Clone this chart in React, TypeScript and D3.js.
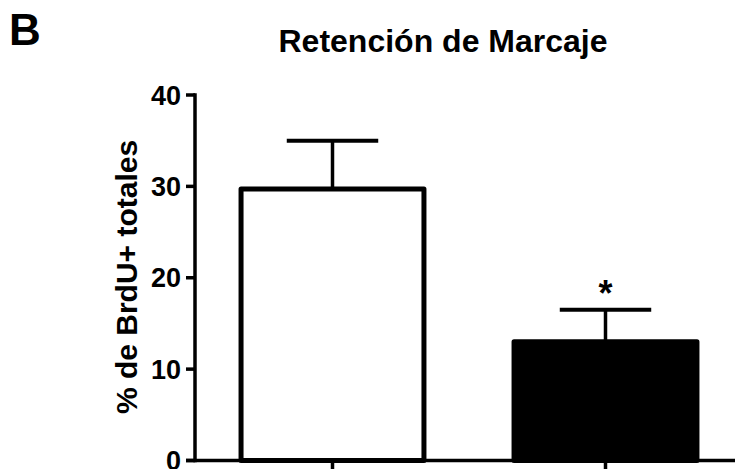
import { useEffect, useRef } from "react";
import * as d3 from "d3";

// grupos (las etiquetas del eje x quedan fuera del recorte)
const groups = ["Control", "Tratado"];
const means = [29.7, 13.0];
const sems = [5.3, 3.5];
const fills = ["#ffffff", "#000000"];
const signif = ["", "*"];
const yTicks = [0, 10, 20, 30, 40];

export default function App() {
  const svgRef = useRef<SVGSVGElement | null>(null);

  useEffect(() => {
    document.body.style.margin = "0";
    const svg = d3.select(svgRef.current);
    svg.selectAll("*").remove();

    const width = 735;
    const height = 469;
    const font = "'Liberation Sans', Arial, sans-serif";
    const axisX = 195;

    const y = d3.scaleLinear().domain([0, 40]).range([460.5, 95]);
    const x = d3
      .scaleBand<string>()
      .domain(groups)
      .range([196, 742])
      .paddingInner(0.33)
      .paddingOuter(0.165);

    svg.attr("width", width).attr("height", height);
    svg.append("rect").attr("width", width).attr("height", height).attr("fill", "#fff");

    // panel letter + title
    svg.append("text")
      .attr("x", 9)
      .attr("y", 45)
      .style("font-family", font)
      .style("font-weight", "bold")
      .style("font-size", "44px")
      .text("B");

    svg.append("text")
      .attr("x", 443)
      .attr("y", 52)
      .attr("text-anchor", "middle")
      .style("font-family", font)
      .style("font-weight", "bold")
      .style("font-size", "32px")
      .text("Retención de Marcaje");

    // bars
    const bw = x.bandwidth();
    svg.selectAll(".bar")
      .data(groups)
      .join("rect")
      .attr("class", "bar")
      .attr("x", (d) => x(d)!)
      .attr("y", (d, i) => y(means[i]))
      .attr("width", bw)
      .attr("height", (d, i) => y(0) - y(means[i]))
      .attr("fill", (d, i) => fills[i])
      .attr("stroke", "#000")
      .attr("stroke-width", 5)
      .attr("stroke-linejoin", "round");

    // error bars (upper only)
    const capW = bw / 2;
    groups.forEach((g, i) => {
      const cx = x(g)! + bw / 2;
      svg.append("line")
        .attr("x1", cx).attr("x2", cx)
        .attr("y1", y(means[i])).attr("y2", y(means[i] + sems[i]))
        .attr("stroke", "#000").attr("stroke-width", 3.5);
      svg.append("line")
        .attr("x1", cx - capW / 2).attr("x2", cx + capW / 2)
        .attr("y1", y(means[i] + sems[i])).attr("y2", y(means[i] + sems[i]))
        .attr("stroke", "#000").attr("stroke-width", 4);
      if (signif[i]) {
        svg.append("text")
          .attr("x", cx)
          .attr("y", y(means[i] + sems[i]) - 4)
          .attr("text-anchor", "middle")
          .style("font-family", font)
          .style("font-weight", "bold")
          .style("font-size", "36px")
          .text(signif[i]);
      }
    });

    // y axis
    const yAxis = svg.append("g").attr("transform", `translate(${axisX},0)`);
    yAxis.append("line")
      .attr("x1", 0).attr("x2", 0)
      .attr("y1", y(40) - 1.75).attr("y2", y(0) + 1.75)
      .attr("stroke", "#000").attr("stroke-width", 3.5);
    yAxis.selectAll(".ytick")
      .data(yTicks)
      .join("line")
      .attr("class", "ytick")
      .attr("x1", -9).attr("x2", 0)
      .attr("y1", (d) => y(d)).attr("y2", (d) => y(d))
      .attr("stroke", "#000").attr("stroke-width", 3.5);
    yAxis.selectAll(".ylab")
      .data(yTicks)
      .join("text")
      .attr("class", "ylab")
      .attr("x", -14)
      .attr("y", (d) => y(d))
      .attr("dy", "0.36em")
      .attr("text-anchor", "end")
      .style("font-family", font)
      .style("font-weight", "bold")
      .style("font-size", "27px")
      .text((d) => d);

    svg.append("text")
      .attr("transform", `translate(137,277) rotate(-90)`)
      .attr("text-anchor", "middle")
      .style("font-family", font)
      .style("font-weight", "bold")
      .style("font-size", "30px")
      .text("% de BrdU+ totales");

    // x axis
    svg.append("line")
      .attr("x1", axisX - 9).attr("x2", width)
      .attr("y1", y(0)).attr("y2", y(0))
      .attr("stroke", "#000").attr("stroke-width", 3.5);
    svg.selectAll(".xtick")
      .data(groups)
      .join("line")
      .attr("class", "xtick")
      .attr("x1", (d) => x(d)! + bw / 2).attr("x2", (d) => x(d)! + bw / 2)
      .attr("y1", y(0)).attr("y2", y(0) + 10)
      .attr("stroke", "#000").attr("stroke-width", 3.5);
  }, []);

  return <svg ref={svgRef} style={{ display: "block" }} />;
}
